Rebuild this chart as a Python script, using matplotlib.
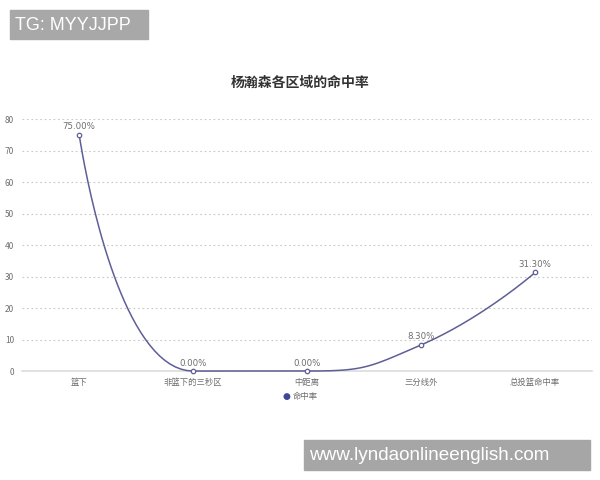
import numpy as np
import matplotlib
matplotlib.use("Agg")
import matplotlib.pyplot as plt
from matplotlib.patches import Rectangle

plt.rcParams["font.family"] = ["Noto Sans CJK SC", "DejaVu Sans"]

title = "杨瀚森各区域的命中率"
categories = ["篮下", "非篮下的三秒区", "中距离", "三分线外", "总投篮命中率"]
rates = [75.00, 0.00, 0.00, 8.30, 31.30]
series_name = "命中率"
y_ticks = [0, 10, 20, 30, 40, 50, 60, 70, 80]

line_color = "#5d5f96"
grid_color = "#c8c8c8"
text_color = "#6e6e6e"


def bezier(p0, p1, p2, p3, steps=40):
    t = np.linspace(0, 1, steps)[:, None]
    return ((1 - t) ** 3) * p0 + 3 * ((1 - t) ** 2) * t * p1 + 3 * (1 - t) * t ** 2 * p2 + t ** 3 * p3


def smooth_curve(ax, xs, ys, smooth=0.5):
    # smoothing like the chart library does it, in pixel space
    pts = ax.transData.transform(np.column_stack([xs, ys]))
    n = len(pts)
    segs = []
    cp0 = pts[0].copy()
    for k in range(1, n):
        prev = pts[k - 1]
        p = pts[k]
        if k == n - 1:
            cp1 = p.copy()
            nxt_cp0 = None
        else:
            nxt = pts[k + 1]
            len_prev = np.hypot(*(p - prev))
            len_next = np.hypot(*(nxt - p))
            ratio = len_next / (len_next + len_prev)
            v = nxt - prev
            nxt_cp0 = p + v * smooth * ratio
            nxt_cp0 = np.minimum(nxt_cp0, np.maximum(nxt, p))
            nxt_cp0 = np.maximum(nxt_cp0, np.minimum(nxt, p))
            v = nxt_cp0 - p
            cp1 = p - v * len_prev / len_next
            cp1 = np.minimum(cp1, np.maximum(prev, p))
            cp1 = np.maximum(cp1, np.minimum(prev, p))
            v = p - cp1
            nxt_cp0 = p + v * len_next / len_prev
        segs.append(bezier(prev, cp0, cp1, p))
        cp0 = nxt_cp0
    out = np.vstack(segs)
    return ax.transData.inverted().transform(out)


fig = plt.figure(figsize=(6, 4.8), dpi=100)
ax = fig.add_axes([0.037, 0.227, 0.95, 0.525])

x = np.arange(len(categories))
ax.set_xlim(-0.5, len(categories) - 0.5)
ax.set_ylim(0, 80)

ax.set_yticks(y_ticks)
ax.set_xticks(x)
ax.set_xticklabels(categories)
ax.tick_params(axis="both", length=0, labelsize=6, colors=text_color)
ax.tick_params(axis="y", pad=6)
ax.tick_params(axis="x", pad=5)

for yv in y_ticks[1:]:
    ax.axhline(yv, color=grid_color, lw=0.8, ls=(0, (1.5, 2.5)), zorder=0)

for side in ["top", "right", "left"]:
    ax.spines[side].set_visible(False)
ax.spines["bottom"].set_color("#dcdcdc")
ax.spines["bottom"].set_linewidth(1.2)

curve = smooth_curve(ax, x, rates)
ax.plot(curve[:, 0], curve[:, 1], color=line_color, lw=1.1, zorder=3, clip_on=False)
ax.plot(x, rates, ls="none", marker="o", ms=3.2, mfc="white", mec=line_color,
        mew=0.9, zorder=4, clip_on=False)

for xi, v in zip(x, rates):
    ax.annotate(f"{v:.2f}%", (xi, v), xytext=(0, 2.5), textcoords="offset points",
                ha="center", va="bottom", fontsize=6.2, color=text_color,
                family="DejaVu Sans", zorder=5)

fig.text(0.5, 1 - 83 / 480, title, ha="center", va="center", fontsize=10,
         fontweight="bold", color="#333333")

# legend
fig.text(0.478, 1 - 396 / 480, "●", ha="center", va="center", fontsize=6.5,
         color="#3c4799", family="DejaVu Sans")
fig.text(0.488, 1 - 396 / 480, series_name, ha="left", va="center", fontsize=6,
         color=text_color)

# watermarks
fig.patches.append(Rectangle((10 / 600, 1 - 39 / 480), 138 / 600, 29 / 480,
                             transform=fig.transFigure, color="#a8a8a8", zorder=10))
fig.text(15 / 600, 1 - 25 / 480, "TG: MYYJJPP", ha="left", va="center",
         fontsize=13, color="white", family="Liberation Sans", zorder=11)
fig.patches.append(Rectangle((304 / 600, 1 - 470 / 480), 286 / 600, 30 / 480,
                             transform=fig.transFigure, color="#a6a6a6", zorder=10))
fig.text(309 / 600, 1 - 455 / 480, "www.lyndaonlineenglish.com", ha="left", va="center",
         fontsize=13.6, color="white", family="Liberation Sans", zorder=11)

fig.savefig("out.png", dpi=100, facecolor="white")
